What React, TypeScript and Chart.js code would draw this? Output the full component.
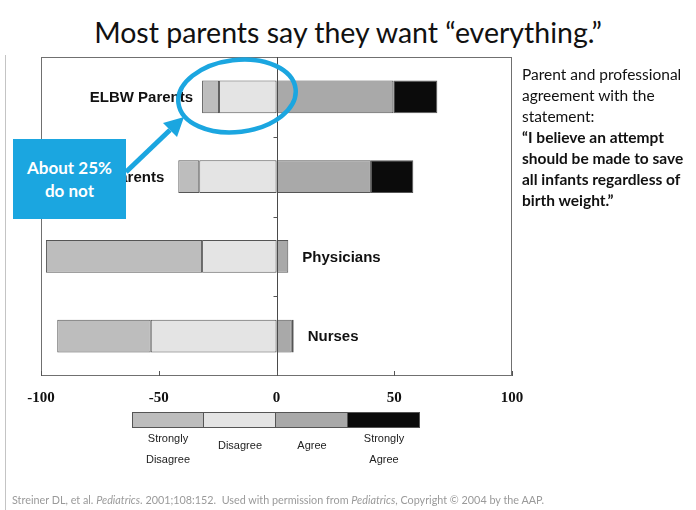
import React, { useEffect, useRef } from "react";
import { Chart, registerables } from "chart.js";

Chart.register(...registerables);

// ---- data ----
const categories = ["ELBW Parents", "Term Parents", "Physicians", "Nurses"];
const stronglyDisagree = [-7.2, -8.9, -66.3, -39.7];
const disagree = [-24.4, -32.8, -31.6, -53.4];
const agree = [49.6, 40.1, 5.0, 6.5];
const stronglyAgree = [18.7, 18.0, 0, 0.8];
const xTicks = [-100, -50, 0, 50, 100];
const legendNames = ["Strongly Disagree", "Disagree", "Agree", "Strongly Agree"];
const legendLines = [["Strongly", "Disagree"], ["Disagree"], ["Agree"], ["Strongly", "Agree"]];

const COLORS = ["#bdbdbd", "#e4e4e4", "#a9a9a9", "#0b0b0b"];
const BORDER = "#555555";
const BLUE = "#1ba6e0";

const overlayPlugin = {
  id: "overlayPlugin",
  afterDatasetsDraw(chart: any) {
    const { ctx, chartArea: ca, scales } = chart;
    const xs = scales.x;
    const ys = scales.y;
    ctx.save();
    // frame
    ctx.strokeStyle = "#707070";
    ctx.lineWidth = 1;
    ctx.strokeRect(Math.round(ca.left) + 0.5, Math.round(ca.top) + 0.5, Math.round(ca.right - ca.left) - 1, Math.round(ca.bottom - ca.top) - 1);
    // zero line
    const x0 = Math.round(xs.getPixelForValue(0)) + 0.5;
    ctx.strokeStyle = "#4a4a4a";
    ctx.beginPath();
    ctx.moveTo(x0, ca.top);
    ctx.lineTo(x0, ca.bottom);
    ctx.stroke();
    // inward x ticks
    ctx.strokeStyle = "#555";
    xTicks.forEach((v) => {
      const px = Math.round(xs.getPixelForValue(v)) + 0.5;
      ctx.beginPath();
      ctx.moveTo(px, ca.bottom);
      ctx.lineTo(px, ca.bottom - 5);
      ctx.stroke();
    });
    // category boundary ticks on zero line
    for (let i = 1; i < categories.length; i++) {
      const yy = Math.round((ys.getPixelForValue(i - 1) + ys.getPixelForValue(i)) / 2) + 0.5;
      ctx.beginPath();
      ctx.moveTo(x0 - 4, yy);
      ctx.lineTo(x0, yy);
      ctx.stroke();
    }
    // category labels
    ctx.fillStyle = "#111";
    ctx.font = "bold 15px 'Liberation Sans', Arial, sans-serif";
    ctx.textBaseline = "middle";
    categories.forEach((c, i) => {
      const left = stronglyDisagree[i] + disagree[i];
      const right = agree[i] + stronglyAgree[i];
      const yy = ys.getPixelForValue(i) + 1;
      if (right > 30) {
        ctx.textAlign = "right";
        ctx.fillText(c, xs.getPixelForValue(left) - (i === 0 ? 9 : 14), yy);
      } else {
        ctx.textAlign = "left";
        ctx.fillText(c, xs.getPixelForValue(right) + 14, yy);
      }
    });
    ctx.restore();
  },
};

function BarChart() {
  const ref = useRef<HTMLCanvasElement | null>(null);
  useEffect(() => {
    if (!ref.current) return;
    const common = {
      borderColor: BORDER,
      borderWidth: 1,
      borderSkipped: false,
      barPercentage: 0.41,
      categoryPercentage: 1,
    };
    const chart = new Chart(ref.current, {
      type: "bar",
      data: {
        labels: categories,
        datasets: [
          { label: legendNames[1], data: disagree, backgroundColor: COLORS[1], ...common },
          { label: legendNames[2], data: agree, backgroundColor: COLORS[2], ...common },
          { label: legendNames[0], data: stronglyDisagree, backgroundColor: COLORS[0], ...common },
          { label: legendNames[3], data: stronglyAgree, backgroundColor: COLORS[3], ...common },
        ],
      } as any,
      options: {
        indexAxis: "y",
        responsive: false,
        animation: false,
        layout: { padding: { left: 41, right: 184, top: 57, bottom: 90 } },
        plugins: { legend: { display: false }, tooltip: { enabled: false } },
        scales: {
          x: {
            stacked: true,
            min: -100,
            max: 100,
            afterBuildTicks: (s: any) => {
              s.ticks = xTicks.map((v) => ({ value: v }));
            },
            grid: { display: false, drawTicks: false },
            border: { display: false },
            ticks: {
              color: "#111",
              padding: 13,
              font: { family: "'Liberation Serif', 'Times New Roman', serif", size: 15, weight: "bold" },
            },
          },
          y: { stacked: true, display: false },
        },
      } as any,
      plugins: [overlayPlugin],
    });
    return () => chart.destroy();
  }, []);
  return <canvas ref={ref} width={696} height={510} style={{ position: "absolute", left: 0, top: 0, width: 696, height: 510 }} />;
}

export default function App() {
  const sans = "Lato, 'Open Sans', sans-serif";
  return (
    <div style={{ position: "absolute", left: 0, top: 0, width: 696, height: 510, background: "#fff", overflow: "hidden" }}>
      <div style={{ position: "absolute", left: 5, top: 55, width: 1, height: 455, background: "#c4c4c4" }} />
      <div style={{ position: "absolute", left: 0, top: 13, width: 696, textAlign: "center", fontFamily: sans, fontSize: 28.5, lineHeight: "38px", color: "#111" }}>
        Most parents say they want “everything.”
      </div>
      <BarChart />
      <div style={{ position: "absolute", left: 522, top: 64, width: 174, fontFamily: sans, fontSize: 15.5, lineHeight: "21px", color: "#111", whiteSpace: "nowrap" }}>
        Parent and professional<br />agreement with the<br />statement:<br />
        <b>“I believe an attempt<br />should be made to save<br />all infants regardless of<br />birth weight.”</b>
      </div>
      {/* legend */}
      <div style={{ position: "absolute", left: 132, top: 412, display: "flex" }}>
        {legendLines.map((lines, i) => (
          <div key={i} style={{ width: 72, textAlign: "center" }}>
            <div style={{ height: 16, boxSizing: "border-box", background: COLORS[i], border: `1px solid ${BORDER}`, marginLeft: i === 0 ? 0 : -1 }} />
            <div style={{ paddingTop: lines.length === 1 ? 7 : 0, fontFamily: "'Liberation Sans', Arial, sans-serif", fontSize: 11, lineHeight: "21px", color: "#222" }}>
              {lines.map((l, j) => (
                <div key={j}>{l}</div>
              ))}
            </div>
          </div>
        ))}
      </div>
      {/* callout box */}
      <div style={{ position: "absolute", left: 13, top: 139, width: 113, height: 80, background: BLUE, color: "#fff", fontFamily: sans, fontWeight: "bold", fontSize: 17, lineHeight: "23px", textAlign: "center", display: "flex", flexDirection: "column", justifyContent: "center" }}>
        <div>About 25%</div>
        <div>do not</div>
      </div>
      <svg width={696} height={510} style={{ position: "absolute", left: 0, top: 0 }}>
        <ellipse cx={237} cy={96} rx={59} ry={36} transform="rotate(-7 237 96)" fill="none" stroke={BLUE} strokeWidth={4.5} />
        <line x1={126} y1={172} x2={170} y2={130} stroke={BLUE} strokeWidth={5} />
        <polygon points="184,117 177,137 163,123" fill={BLUE} />
      </svg>
      <div style={{ position: "absolute", left: 12, top: 493, fontFamily: sans, fontSize: 10.8, color: "#9a9a9a", whiteSpace: "nowrap" }}>
        Streiner DL, et al. <i>Pediatrics</i>. 2001;108:152.&nbsp; Used with permission from <i>Pediatrics</i>, Copyright © 2004 by the AAP.
      </div>
    </div>
  );
}
